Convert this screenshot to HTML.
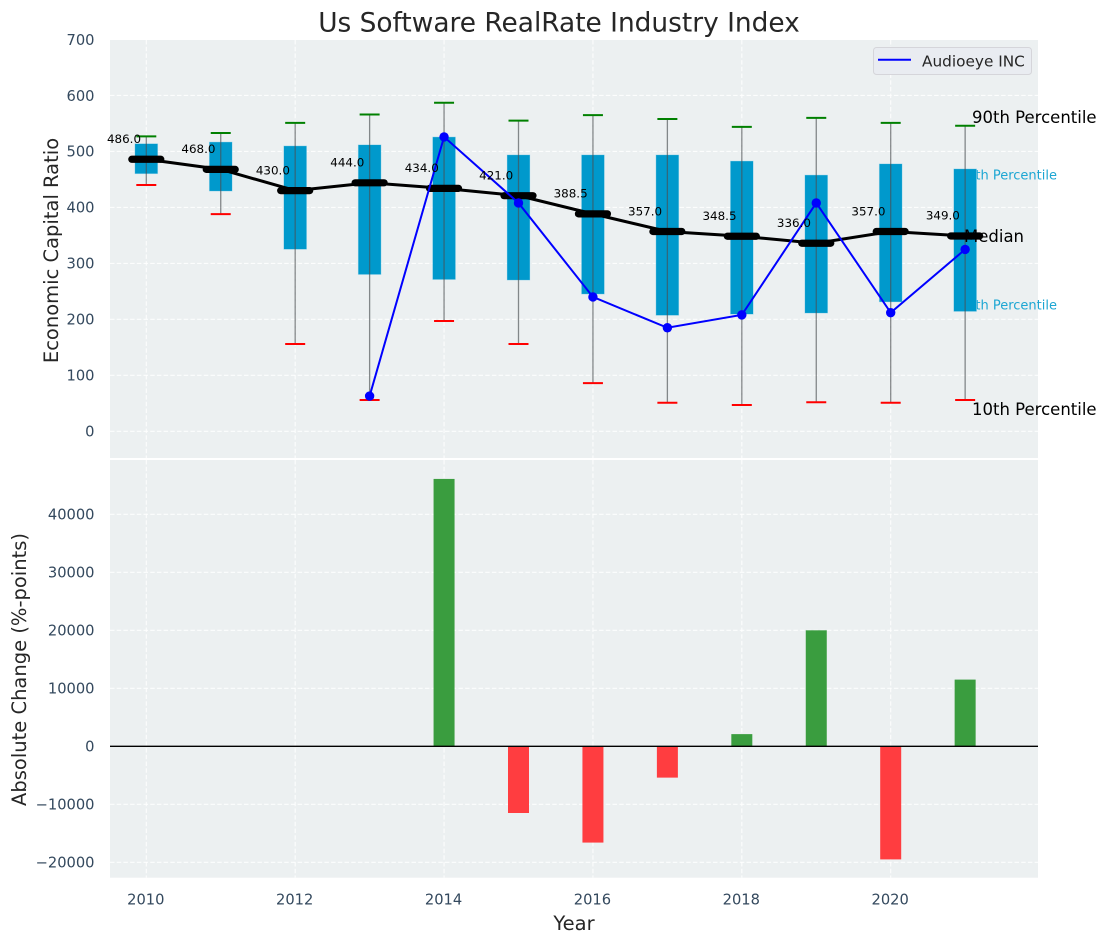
<!DOCTYPE html>
<html>
<head>
<meta charset="utf-8">
<title>Us Software RealRate Industry Index</title>
<style>
html,body{margin:0;padding:0;background:#fff;width:1107px;height:942px;overflow:hidden}
svg{display:block}
text{font-family:"DejaVu Sans","Liberation Sans",sans-serif}
</style>
</head>
<body>
<svg id="chart" xmlns="http://www.w3.org/2000/svg" width="1107" height="942" viewBox="0 0 1107 942"></svg>
<script>
const years = [2010,2011,2012,2013,2014,2015,2016,2017,2018,2019,2020,2021];
const p90 = [527,533,551,566,587,555,565,558,544,560,551,546];
const p75 = [514,517,510,512,526,494,494,494,483,458,478,469];
const medians = [486,468,430,444,434,421,388.5,357,348.5,336,357,349];
const p25 = [460,429,325,280,271,270,245,207,209,211,231,214];
const p10 = [440,388,156,56,197,156,86,51,47,52,51,56];
const companyYears = [2013,2014,2015,2016,2017,2018,2019,2020,2021];
const companyValues = [63,526,408,240,185,208,408,212,325];
const changeYears = [2014,2015,2016,2017,2018,2019,2020,2021];
const changeValues = [46100,-11500,-16600,-5400,2100,20000,-19500,11500];
const xTicks = [2010,2012,2014,2016,2018,2020];
const topTicks = [0,100,200,300,400,500,600,700];
const bottomTicks = [-20000,-10000,0,10000,20000,30000,40000];

const svg = document.getElementById('chart');
const NS = 'http://www.w3.org/2000/svg';
const X = v => 146.3 + (v - 2010) * 74.44;
const YT = v => 431.3 - v * 0.5597;
const YB = v => 746.3 - v * 0.0058;
const AX = {l:110, r:1038, t1:40, b1:458, t2:460, b2:877.7};
const TICKC = '#34495e', DARK = '#262626', BOX = '#0099cc';

function make(tag, attrs, name, txt){
  const e = document.createElementNS(NS, tag);
  for (const k in attrs) e.setAttribute(k, attrs[k]);
  
  
  if (txt !== undefined) e.textContent = txt;
  svg.appendChild(e);
  return e;
}
function label(x, y, s, size, fill, anchor, name, extra){
  return make('text', Object.assign({x:x, y:y + size * 0.36, 'font-size':size, fill:fill, 'text-anchor':anchor}, extra || {}), name, s);
}

// panels
make('rect',{x:AX.l,y:AX.t1,width:AX.r-AX.l,height:AX.b1-AX.t1,fill:'#ecf0f1'},'top-panel-background');
make('rect',{x:AX.l,y:AX.t2,width:AX.r-AX.l,height:AX.b2-AX.t2,fill:'#ecf0f1'},'bottom-panel-background');

// grid
const gridStyle = {stroke:'#ffffff','stroke-width':1.1,'stroke-dasharray':'4.5 2.2','stroke-opacity':0.85};
xTicks.forEach(t=>{
  make('line',Object.assign({x1:X(t),x2:X(t),y1:AX.t1,y2:AX.b1},gridStyle),'top-x-gridline');
  make('line',Object.assign({x1:X(t),x2:X(t),y1:AX.t2,y2:AX.b2},gridStyle),'bottom-x-gridline');
  label(X(t)-0.5,899,String(t),14.67,TICKC,'middle','x-tick-label');
});
topTicks.forEach(t=>{
  make('line',Object.assign({x1:AX.l,x2:AX.r,y1:YT(t),y2:YT(t)},gridStyle),'top-y-gridline');
  label(94.5,YT(t),String(t),14.67,TICKC,'end','top-y-tick-label');
});
bottomTicks.forEach(t=>{
  make('line',Object.assign({x1:AX.l,x2:AX.r,y1:YB(t),y2:YB(t)},gridStyle),'bottom-y-gridline');
  label(94.5,YB(t),String(t).replace('-','\u2212'),14.67,TICKC,'end','bottom-y-tick-label');
});

// percentile captions that sit beneath the boxes
label(1057,175,'75th Percentile',13,'#1ca6d3','end','p75-caption');
label(1057,305,'25th Percentile',13,'#1ca6d3','end','p25-caption');

// boxes
years.forEach((yr,i)=>{
  make('rect',{x:X(yr)-11.5,y:YT(p75[i]),width:23,height:YT(p25[i])-YT(p75[i]),fill:BOX,stroke:'#bfe3ef','stroke-width':0.6,'stroke-opacity':0.7},'box-'+yr);
});
// whiskers and caps
years.forEach((yr,i)=>{
  make('line',{x1:X(yr),x2:X(yr),y1:YT(p90[i]),y2:YT(p10[i]),stroke:'#4a4f52','stroke-width':1.3,'stroke-opacity':0.65},'whisker-'+yr);
  make('line',{x1:X(yr)-10,x2:X(yr)+10,y1:YT(p90[i]),y2:YT(p90[i]),stroke:'#008000','stroke-width':2},'p90-cap-'+yr);
  make('line',{x1:X(yr)-10,x2:X(yr)+10,y1:YT(p10[i]),y2:YT(p10[i]),stroke:'#ff0000','stroke-width':2},'p10-cap-'+yr);
});
// median trend
make('polyline',{points:years.map((yr,i)=>X(yr)+','+YT(medians[i])).join(' '),fill:'none',stroke:'#000','stroke-width':3},'median-line');
years.forEach((yr,i)=>{
  make('line',{x1:X(yr)-14.5,x2:X(yr)+14.5,y1:YT(medians[i]),y2:YT(medians[i]),stroke:'#000','stroke-width':7.2,'stroke-linecap':'round'},'median-bar-'+yr);
});
// company series
make('polyline',{points:companyYears.map((yr,i)=>X(yr)+','+YT(companyValues[i])).join(' '),fill:'none',stroke:'#0000ff','stroke-width':2},'audioeye-line');
companyYears.forEach((yr,i)=>{
  make('circle',{cx:X(yr),cy:YT(companyValues[i]),r:4.7,fill:'#0000ff'},'audioeye-point-'+yr);
});
// median value labels
years.forEach((yr,i)=>{
  label(X(yr)-22.3,YT(medians[i])-20.5,medians[i].toFixed(1),11.9,'#000','middle','median-value-'+yr);
});
// percentile captions on top
label(972,117,'90th Percentile',16.5,'#000','start','p90-caption');
label(964,236,'Median',16.5,'#000','start','median-caption');
label(972,409,'10th Percentile',16.5,'#000','start','p10-caption');

// change bars
changeYears.forEach((yr,i)=>{
  const v = changeValues[i];
  const y0 = YB(Math.max(v,0)), y1 = YB(Math.min(v,0));
  make('rect',{x:X(yr)-10.5,y:y0,width:21,height:y1-y0,fill:v>=0?'#3a9d3f':'#ff3d40'},'change-bar-'+yr);
});
make('line',{x1:AX.l,x2:AX.r,y1:YB(0),y2:YB(0),stroke:'#000','stroke-width':1.4},'zero-line');

// titles
label(559,22,'Us Software RealRate Industry Index',26.4,DARK,'middle','chart-title');
label(51,250.5,'Economic Capital Ratio',19.5,DARK,'middle','top-y-axis-title',{transform:'rotate(-90 51 250.5)'});
label(19,669.5,'Absolute Change (%-points)',19.5,DARK,'middle','bottom-y-axis-title',{transform:'rotate(-90 19 669.5)'});
label(574,923,'Year',19.5,DARK,'middle','x-axis-title');

// legend
make('rect',{x:873.5,y:47.5,width:158,height:27,rx:3,fill:'#e9ecf1',stroke:'#d5d5da','stroke-width':1},'legend-box');
make('line',{x1:878,x2:911,y1:59.8,y2:59.8,stroke:'#0000ff','stroke-width':2},'legend-line');
label(922,61,'Audioeye INC',15.3,DARK,'start','legend-entry');
</script>
</body>
</html>
